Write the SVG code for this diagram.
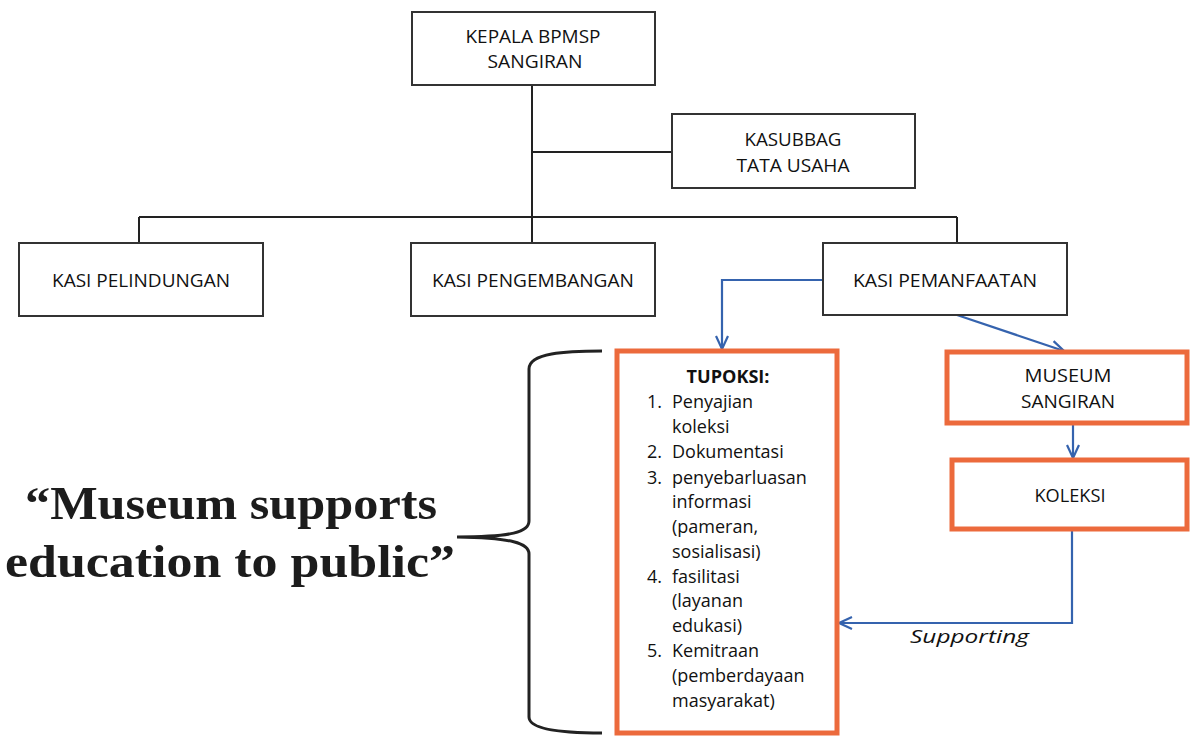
<svg xmlns="http://www.w3.org/2000/svg" width="1192" height="738" viewBox="0 0 1192 738">
<style>
.box{fill:#fff;stroke:#333;stroke-width:2}
.obox{fill:#fff;stroke:#EC6A3C;stroke-width:5}
.lbl{font-family:"Open Sans","Liberation Sans",sans-serif;font-size:18px;fill:#111;text-anchor:middle}
.lst{font-family:"Open Sans","Liberation Sans",sans-serif;font-size:18px;fill:#111}
.ln{stroke:#222;stroke-width:2;fill:none}
.bl{stroke:#3563AE;stroke-width:2.2;fill:none}
.quote{font-family:"Liberation Serif",serif;font-weight:bold;font-size:46px;fill:#1c1c1c}
</style>
<defs>
<marker id="arr" viewBox="0 0 16 16" refX="15" refY="8" markerWidth="16" markerHeight="16" markerUnits="userSpaceOnUse" orient="auto">
<path d="M2,2 L15,8 L2,14" fill="none" stroke="#3563AE" stroke-width="2.2"/>
</marker>
</defs>
<rect width="1192" height="738" fill="#fff"/>
<g id="connectors">
<path class="ln" d="M532,85 V243"/>
<path class="ln" d="M532,152 H672"/>
<path class="ln" d="M139,217 H957"/>
<path class="ln" d="M139,217 V243"/>
<path class="ln" d="M957,217 V243"/>
<path class="bl" d="M823,280 H722 V349" marker-end="url(#arr)"/>
<path class="bl" d="M957,315 L1064,351" marker-end="url(#arr)"/>
<path class="bl" d="M1073,423 V458" marker-end="url(#arr)"/>
<path class="bl" d="M1072,529 V623 H839" marker-end="url(#arr)"/>
<text class="lst" x="910" y="643" font-style="italic" textLength="119" lengthAdjust="spacingAndGlyphs">Supporting</text>
</g>
<g id="kepala">
<rect class="box" x="412" y="12" width="243" height="73"/>
<text class="lbl" x="533" y="43" textLength="135" lengthAdjust="spacingAndGlyphs">KEPALA BPMSP</text>
<text class="lbl" x="535" y="68" textLength="95" lengthAdjust="spacingAndGlyphs">SANGIRAN</text>
</g>
<g id="kasubbag">
<rect class="box" x="672" y="114" width="243" height="74"/>
<text class="lbl" x="793" y="146" textLength="97" lengthAdjust="spacingAndGlyphs">KASUBBAG</text>
<text class="lbl" x="793" y="172" textLength="113" lengthAdjust="spacingAndGlyphs">TATA USAHA</text>
</g>
<g id="kasi-pelindungan">
<rect class="box" x="19" y="243" width="244" height="73"/>
<text class="lbl" x="141" y="287" textLength="178" lengthAdjust="spacingAndGlyphs">KASI PELINDUNGAN</text>
</g>
<g id="kasi-pengembangan">
<rect class="box" x="411" y="243" width="244" height="73"/>
<text class="lbl" x="533" y="287" textLength="202" lengthAdjust="spacingAndGlyphs">KASI PENGEMBANGAN</text>
</g>
<g id="kasi-pemanfaatan">
<rect class="box" x="823" y="243" width="244" height="72"/>
<text class="lbl" x="945" y="287" textLength="184" lengthAdjust="spacingAndGlyphs">KASI PEMANFAATAN</text>
</g>
<g id="tupoksi">
<rect class="obox" x="617" y="351" width="220" height="382"/>
<text class="lbl" x="728" y="383" font-weight="bold" textLength="83" lengthAdjust="spacingAndGlyphs">TUPOKSI:</text>
<text class="lst" x="647" y="408">1.</text>
<text class="lst" x="672" y="408">Penyajian</text>
<text class="lst" x="672" y="433">koleksi</text>
<text class="lst" x="647" y="458">2.</text>
<text class="lst" x="672" y="458">Dokumentasi</text>
<text class="lst" x="647" y="484">3.</text>
<text class="lst" x="672" y="484">penyebarluasan</text>
<text class="lst" x="672" y="508">informasi</text>
<text class="lst" x="672" y="533">(pameran,</text>
<text class="lst" x="672" y="558">sosialisasi)</text>
<text class="lst" x="647" y="583">4.</text>
<text class="lst" x="672" y="583">fasilitasi</text>
<text class="lst" x="672" y="607">(layanan</text>
<text class="lst" x="672" y="632">edukasi)</text>
<text class="lst" x="647" y="657">5.</text>
<text class="lst" x="672" y="657">Kemitraan</text>
<text class="lst" x="672" y="682">(pemberdayaan</text>
<text class="lst" x="672" y="707">masyarakat)</text>
</g>
<g id="museum">
<rect class="obox" x="947" y="352" width="240" height="71"/>
<text class="lbl" x="1068" y="382" textLength="87" lengthAdjust="spacingAndGlyphs">MUSEUM</text>
<text class="lbl" x="1068" y="408" textLength="94" lengthAdjust="spacingAndGlyphs">SANGIRAN</text>
</g>
<g id="koleksi">
<rect class="obox" x="952" y="460" width="235" height="69"/>
<text class="lbl" x="1070" y="502" textLength="71" lengthAdjust="spacingAndGlyphs">KOLEKSI</text>
</g>
<g id="quote">
<path d="M602,351 C565,351 529,353 529,369 V521 C529,532 512,537 457,537 C512,538 529,543 529,554 V717 C529,730 565,733 602,733" fill="none" stroke="#222" stroke-width="3"/>
<text class="quote" x="25" y="519" textLength="412" lengthAdjust="spacingAndGlyphs">“Museum supports</text>
<text class="quote" x="5" y="577" textLength="450" lengthAdjust="spacingAndGlyphs">education to public”</text>
</g>
</svg>
